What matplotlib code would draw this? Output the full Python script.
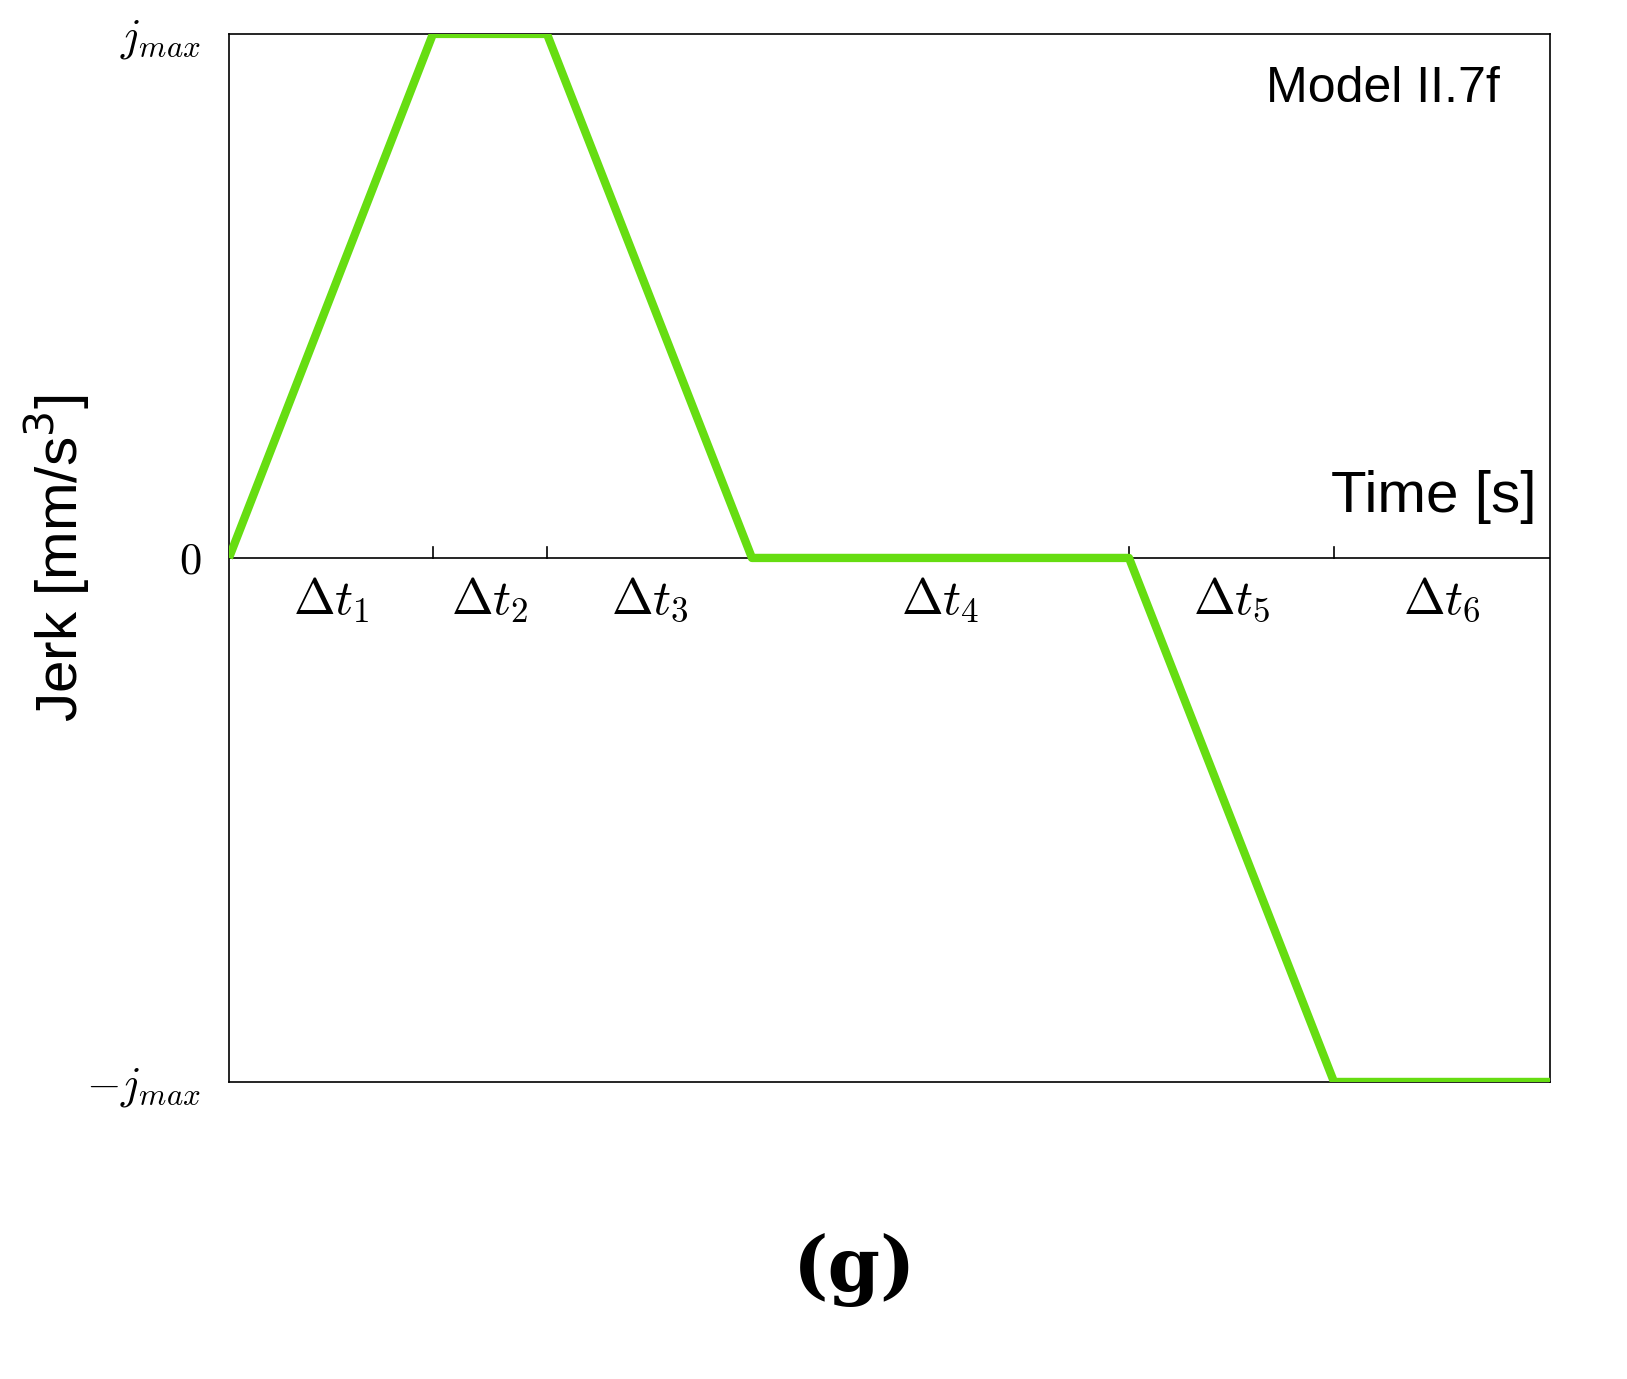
import matplotlib
matplotlib.use("Agg")
import matplotlib.pyplot as plt

plt.rcParams['mathtext.fontset'] = 'cm'
plt.rcParams['font.family'] = ['Liberation Sans', 'DejaVu Sans']

# breakpoints of the jerk profile (time, arbitrary units) and jerk values
t_pts = [0, 2.04, 3.18, 5.23, 9.0, 11.05, 13.21]
jerk = [0, 1, 1, 0, 0, -1, -1]
seg_labels = [r'$\Delta t_1$', r'$\Delta t_2$', r'$\Delta t_3$',
              r'$\Delta t_4$', r'$\Delta t_5$', r'$\Delta t_6$']
tick_pos = [2.04, 3.18, 9.0, 11.05]

fig = plt.figure(figsize=(16.27, 13.79), dpi=100)
ax = fig.add_axes([0.1407, 0.2154, 0.812, 0.76])

ax.plot(t_pts, jerk, color='#66dd11', lw=6, solid_capstyle='butt', zorder=3)
ax.axhline(0, color='black', lw=1.2)
for x in tick_pos:
    ax.plot([x, x], [0, 0.02], color='black', lw=1.2)

ax.set_xlim(t_pts[0], t_pts[-1])
ax.set_ylim(-1, 1)
ax.set_xticks([])
ax.set_yticks([-1, 0, 1])
ax.set_yticklabels([r'$-j_{max}$', r'$0$', r'$j_{max}$'], fontsize=32)
ax.tick_params(axis='y', length=0, pad=20)
for s in ax.spines.values():
    s.set_linewidth(1.2)

for i, lab in enumerate(seg_labels):
    xm = (t_pts[i] + t_pts[i + 1]) / 2
    ax.text(xm, -0.08, lab, fontsize=36, ha='center', va='center')

ax.text(0.99, 0.558, 'Time [s]', transform=ax.transAxes,
        fontsize=42, ha='right', va='center')
ax.text(0.962, 0.947, 'Model II.7f', transform=ax.transAxes,
        fontsize=36, ha='right', va='center')
ax.set_ylabel(r'Jerk [mm/s$^3$]', fontsize=42, labelpad=-4,
              math_fontfamily='dejavusans')

fig.text(0.525, 0.079, '(g)', fontsize=54, fontweight='bold',
         family='DejaVu Serif', ha='center', va='center')

fig.savefig('out.png', dpi=100)
